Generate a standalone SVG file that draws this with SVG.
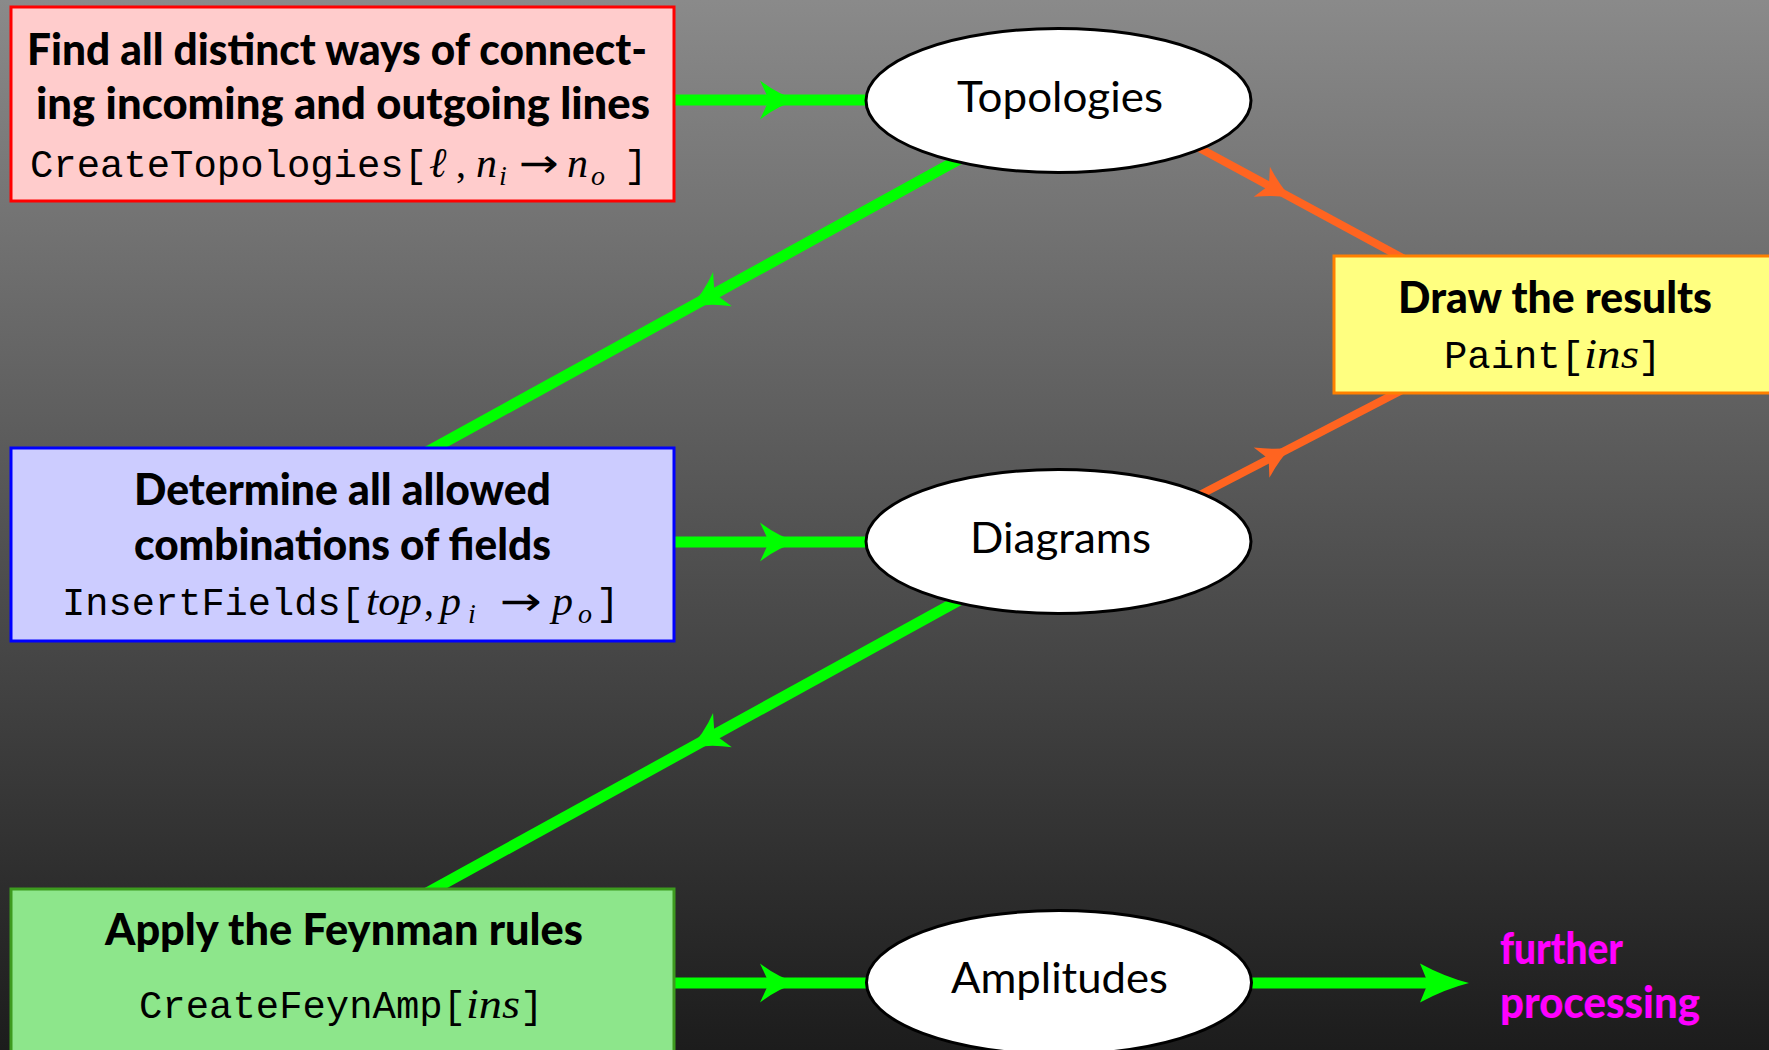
<svg xmlns="http://www.w3.org/2000/svg" xmlns:xlink="http://www.w3.org/1999/xlink" width="1769" height="1050" viewBox="0 0 1769 1050">
<style>
.title{font-family:Lato,"Liberation Sans",sans-serif;font-weight:900;font-size:44px;fill:#000}
.lbl{font-family:Lato,"Liberation Sans",sans-serif;font-weight:normal;font-size:42px;fill:#000}
.mono{font-family:"Liberation Mono","DejaVu Sans Mono",monospace;font-size:39px;fill:#000}
.mi{font-family:"Liberation Serif","DejaVu Serif",serif;font-style:italic;font-size:42px;fill:#000}
.rm{font-family:"Liberation Serif","DejaVu Serif",serif;font-size:40px;fill:#000}
.arr{font-family:"DejaVu Sans",sans-serif;font-size:40px;fill:#000}
.sub{font-size:28px}
.ell{fill:#fff;stroke:#000;stroke-width:3}
.gline{stroke:#00ff00;stroke-width:11;fill:none}
.oline{stroke:#ff6420;stroke-width:8;fill:none}
.further{font-family:Lato,"Liberation Sans",sans-serif;font-weight:900;font-size:44px;fill:#ff00ff}
</style>
<defs>
<linearGradient id="bg" x1="0" y1="0" x2="0" y2="1">
<stop offset="0" stop-color="#8a8a8a"/>
<stop offset="1" stop-color="#1c1c1c"/>
</linearGradient>
<path id="ahG" d="M1,0 Q-18,-5 -37,-19.5 L-28,0 L-37,19.5 Q-18,5 1,0 Z" fill="#00ff00"/>
<path id="ahGL" d="M0,0 Q-24,-6 -49,-19.5 L-41,0 L-49,19.5 Q-24,6 0,0 Z" fill="#00ff00"/>
<path id="ahO" d="M1,0 Q-14,-5 -32,-17 L-24,0 L-32,17 Q-14,5 1,0 Z" fill="#ff6420"/>
</defs>
<rect x="0" y="0" width="1769" height="1050" fill="url(#bg)"/>

<g id="connectors">
<line class="gline" x1="660" y1="100" x2="880" y2="100"/>
<use xlink:href="#ahG" transform="translate(797,100)"/>
<line class="gline" x1="660" y1="542" x2="880" y2="542"/>
<use xlink:href="#ahG" transform="translate(797,542)"/>
<line class="gline" x1="660" y1="983" x2="880" y2="983"/>
<use xlink:href="#ahG" transform="translate(797,983)"/>
<line class="gline" x1="1240" y1="983" x2="1428" y2="983"/>
<use xlink:href="#ahGL" transform="translate(1469,983)"/>
<line class="gline" x1="965" y1="156" x2="425" y2="453"/>
<use xlink:href="#ahG" transform="translate(690,307) rotate(151.2)"/>
<line class="gline" x1="965" y1="597" x2="425" y2="894"/>
<use xlink:href="#ahG" transform="translate(690,748) rotate(151.2)"/>
<line class="oline" x1="1190" y1="143" x2="1410" y2="262"/>
<use xlink:href="#ahO" transform="translate(1290,197) rotate(28.4)"/>
<line class="oline" x1="1190" y1="500" x2="1410" y2="386"/>
<use xlink:href="#ahO" transform="translate(1290,448) rotate(-27.3)"/>
</g>

<g id="node-create-topologies">
<rect x="11" y="7" width="663" height="194" fill="#ffcccc" stroke="#ff0000" stroke-width="3"/>
<text class="title" x="27" y="65" textLength="620" lengthAdjust="spacingAndGlyphs">Find all distinct ways of connect-</text>
<text class="title" x="36" y="119" textLength="614" lengthAdjust="spacingAndGlyphs">ing incoming and outgoing lines</text>
<text y="177"><tspan class="mono" x="30" textLength="397" lengthAdjust="spacingAndGlyphs">CreateTopologies[</tspan><tspan class="mi" x="429">ℓ</tspan><tspan class="rm" x="456">,</tspan><tspan class="mi" x="476">n</tspan><tspan class="mi sub" x="499" dy="8">i</tspan><tspan class="arr" x="519" dy="-8" textLength="40" lengthAdjust="spacingAndGlyphs">→</tspan><tspan class="mi" x="567">n</tspan><tspan class="mi sub" x="591" dy="8">o</tspan><tspan class="mono" x="624" dy="-8">]</tspan></text>
</g>

<g id="node-topologies">
<ellipse class="ell" cx="1058.5" cy="100.5" rx="192.5" ry="72"/>
<text class="lbl" x="957" y="112" textLength="206" lengthAdjust="spacingAndGlyphs">Topologies</text>
</g>

<g id="node-paint">
<rect x="1334" y="256" width="450" height="137" fill="#ffff80" stroke="#ff8000" stroke-width="3"/>
<text class="title" x="1398" y="313" textLength="314" lengthAdjust="spacingAndGlyphs">Draw the results</text>
<text y="368"><tspan class="mono" x="1444" textLength="140" lengthAdjust="spacingAndGlyphs">Paint[</tspan><tspan class="mi" x="1584" textLength="55" lengthAdjust="spacingAndGlyphs">ins</tspan><tspan class="mono" x="1638">]</tspan></text>
</g>

<g id="node-insert-fields">
<rect x="11" y="448" width="663" height="193" fill="#ccccff" stroke="#0000ff" stroke-width="3"/>
<text class="title" x="134" y="505" textLength="417" lengthAdjust="spacingAndGlyphs">Determine all allowed</text>
<text class="title" x="134" y="560" textLength="417" lengthAdjust="spacingAndGlyphs">combinations of fields</text>
<text y="615"><tspan class="mono" x="62" textLength="302" lengthAdjust="spacingAndGlyphs">InsertFields[</tspan><tspan class="mi" x="366" textLength="56" lengthAdjust="spacingAndGlyphs">top</tspan><tspan class="rm" x="424">,</tspan><tspan class="mi" x="440">p</tspan><tspan class="mi sub" x="468" dy="8">i</tspan><tspan class="arr" x="500" dy="-8" textLength="42" lengthAdjust="spacingAndGlyphs">→</tspan><tspan class="mi" x="552">p</tspan><tspan class="mi sub" x="578" dy="8">o</tspan><tspan class="mono" x="596" dy="-8">]</tspan></text>
</g>

<g id="node-diagrams">
<ellipse class="ell" cx="1058.5" cy="541.5" rx="192.5" ry="72"/>
<text class="lbl" x="970" y="553" textLength="181" lengthAdjust="spacingAndGlyphs">Diagrams</text>
</g>

<g id="node-create-feynamp">
<rect x="11" y="889" width="663" height="180" fill="#8de68b" stroke="#3d9b1f" stroke-width="3"/>
<text class="title" x="105" y="945" textLength="478" lengthAdjust="spacingAndGlyphs">Apply the Feynman rules</text>
<text y="1018"><tspan class="mono" x="139" textLength="327" lengthAdjust="spacingAndGlyphs">CreateFeynAmp[</tspan><tspan class="mi" x="466" textLength="54" lengthAdjust="spacingAndGlyphs">ins</tspan><tspan class="mono" x="520">]</tspan></text>
</g>

<g id="node-amplitudes">
<ellipse class="ell" cx="1059" cy="982.5" rx="192.5" ry="72"/>
<text class="lbl" x="951" y="993" textLength="217" lengthAdjust="spacingAndGlyphs">Amplitudes</text>
</g>

<g id="node-further">
<text class="further" x="1500" y="964" textLength="123" lengthAdjust="spacingAndGlyphs">further</text>
<text class="further" x="1500" y="1018" textLength="200" lengthAdjust="spacingAndGlyphs">processing</text>
</g>
</svg>
